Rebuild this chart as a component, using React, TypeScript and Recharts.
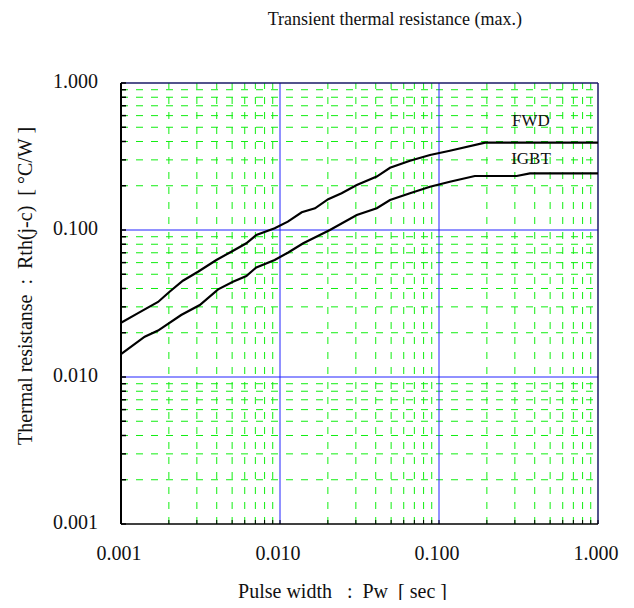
import React from 'react';
import { LineChart, Line, XAxis, YAxis, ReferenceLine, ReferenceDot } from 'recharts';

// FWD curve (pulse width [s] -> Rth [°C/W])
const fwdX = [0.001, 0.00128, 0.00171, 0.00202, 0.00245, 0.00305, 0.00398, 0.00494, 0.00614, 0.0071, 0.00926, 0.0112, 0.0137, 0.0166, 0.0201, 0.0244, 0.0304, 0.0406, 0.0492, 0.0657, 0.0878, 0.117, 0.195, 1];
const fwdY = [0.0234, 0.0272, 0.0324, 0.038, 0.0452, 0.052, 0.0625, 0.0712, 0.0812, 0.0925, 0.1028, 0.114, 0.132, 0.1405, 0.162, 0.178, 0.202, 0.231, 0.265, 0.296, 0.324, 0.346, 0.393, 0.393];

// IGBT curve
const igbtX = [0.001, 0.00141, 0.00171, 0.00239, 0.00313, 0.00408, 0.00506, 0.00614, 0.0071, 0.00926, 0.0112, 0.014, 0.0206, 0.0304, 0.0406, 0.0492, 0.0657, 0.0878, 0.117, 0.168, 0.308, 0.373, 1];
const igbtY = [0.0143, 0.0188, 0.0207, 0.0264, 0.0309, 0.0395, 0.0445, 0.0486, 0.0557, 0.0625, 0.0701, 0.0812, 0.1, 0.1265, 0.1405, 0.16, 0.178, 0.197, 0.213, 0.233, 0.233, 0.243, 0.243];

const decades = [0.001, 0.01, 0.1, 1];
const innerDecades = [0.01, 0.1];
const minors = [
  0.002, 0.003, 0.004, 0.005, 0.006, 0.007, 0.008, 0.009,
  0.02, 0.03, 0.04, 0.05, 0.06, 0.07, 0.08, 0.09,
  0.2, 0.3, 0.4, 0.5, 0.6, 0.7, 0.8, 0.9,
];
const allTicks = [...decades, ...minors].sort((a, b) => a - b);

const fwdData = fwdX.map((x, i) => ({ x, y: fwdY[i] }));
const igbtData = igbtX.map((x, i) => ({ x, y: igbtY[i] }));

const FONT = '"Liberation Serif", "Times New Roman", serif';
const Y_GAP = 23; // axis line -> end of tick label
const X_GAP = 20;

const YTick = (props: any) => {
  const { x, y, payload } = props;
  const ax = x + Y_GAP;
  const major = decades.includes(payload.value);
  return (
    <g>
      <line x1={ax} x2={ax + 5} y1={y} y2={y} stroke="#000" strokeWidth={1.5} />
      {major && (
        <text x={x} y={y} dy={5} textAnchor="end" fontFamily={FONT} fontSize={20} fill="#111">
          {payload.value.toFixed(3)}
        </text>
      )}
    </g>
  );
};

const XTick = (props: any) => {
  const { x, y, payload } = props;
  const ay = y - X_GAP;
  const major = decades.includes(payload.value);
  return (
    <g>
      <line x1={x} x2={x} y1={ay} y2={ay - 4} stroke="#000" strokeWidth={1} />
      {major && (
        <text x={x - 2} y={ay + 36} textAnchor="middle" fontFamily={FONT} fontSize={20} fill="#111">
          {payload.value.toFixed(3)}
        </text>
      )}
    </g>
  );
};

const XTitle = (props: any) => {
  const { viewBox } = props;
  return (
    <text
      x={viewBox.x + viewBox.width / 2 - 17} y={598} textAnchor="middle"
      fontFamily={FONT} fontSize={20} fill="#111" style={{ whiteSpace: 'pre' }}
    >
      {'Pulse width   :  Pw  [ sec ]'}
    </text>
  );
};

const YTitle = () => (
  <text
    x={25} y={286} transform="rotate(-90, 25, 286)" textAnchor="middle" dy={7}
    fontFamily={FONT} fontSize={20} fill="#111" style={{ whiteSpace: 'pre' }}
  >
    {'Thermal resistanse  :  Rth(j-c)  [ °C/W ]'}
  </text>
);

export default function App() {
  return (
    <div style={{ position: 'relative', width: 634, height: 608, margin: -8, background: '#fff' }}>
      <div
        style={{
          position: 'absolute', top: 9, left: 0, width: 522, textAlign: 'right',
          fontFamily: FONT, fontSize: 18, color: '#111', whiteSpace: 'pre',
        }}
      >
        Transient thermal resistance (max.)
      </div>
      <LineChart width={634} height={608} margin={{ top: 83, right: 36, left: 0, bottom: 24 }}>
        <XAxis
          dataKey="x" type="number" scale="log" domain={[0.001, 1]} allowDataOverflow
          ticks={allTicks} interval={0} tickSize={0} tickMargin={X_GAP} tickLine={false}
          tick={(p: any) => <XTick {...p} />}
          axisLine={{ stroke: '#000', strokeWidth: 1.5 }} height={60}
          label={{ content: (p: any) => <XTitle {...p} /> }}
        />
        <YAxis
          dataKey="y" type="number" scale="log" domain={[0.001, 1]} allowDataOverflow
          ticks={allTicks} interval={0} tickSize={0} tickMargin={Y_GAP} tickLine={false}
          tick={(p: any) => <YTick {...p} />}
          axisLine={{ stroke: '#000', strokeWidth: 2 }} width={121}
          label={{ content: () => <YTitle /> }}
        />
        {minors.map((v) => (
          <ReferenceLine key={'mx' + v} x={v} stroke="#11ee11" strokeDasharray="7 8" />
        ))}
        {minors.map((v) => (
          <ReferenceLine key={'my' + v} y={v} stroke="#11ee11" strokeDasharray="7 8" />
        ))}
        {innerDecades.map((v) => (
          <ReferenceLine key={'dx' + v} x={v} stroke="#2222ff" />
        ))}
        {innerDecades.map((v) => (
          <ReferenceLine key={'dy' + v} y={v} stroke="#2222ff" />
        ))}
        <ReferenceLine y={1} stroke="#1a1a66" strokeWidth={1.5} />
        <ReferenceLine x={1} stroke="#1a1a66" strokeWidth={1.5} />
        <Line data={fwdData} dataKey="y" type="linear" stroke="#000" strokeWidth={2.2} dot={false} isAnimationActive={false} />
        <Line data={igbtData} dataKey="y" type="linear" stroke="#000" strokeWidth={2.2} dot={false} isAnimationActive={false} />
        <ReferenceDot x={0.379} y={0.56} r={1} fill="none" stroke="none"
          label={{ value: 'FWD', position: 'center', fontFamily: FONT, fontSize: 17, fill: '#111' }} />
        <ReferenceDot x={0.379} y={0.309} r={1} fill="none" stroke="none"
          label={{ value: 'IGBT', position: 'center', fontFamily: FONT, fontSize: 17, fill: '#111' }} />
      </LineChart>
    </div>
  );
}
